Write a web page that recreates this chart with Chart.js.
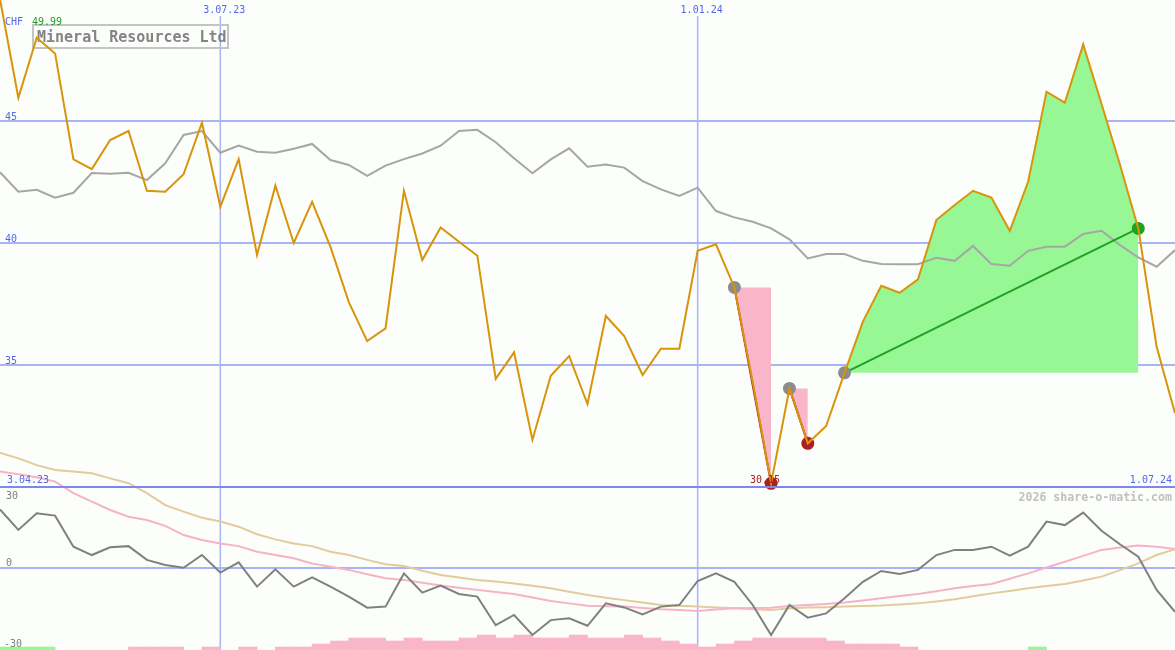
<!DOCTYPE html>
<html>
<head>
<meta charset="utf-8">
<title>Mineral Resources Ltd</title>
<script src="https://cdn.jsdelivr.net/npm/chart.js@4/dist/chart.umd.min.js"></script>
<style>
  html, body { margin: 0; padding: 0; background: #fcfefb; }
  #wrap { width: 1175px; height: 650px; position: relative; }
</style>
</head>
<body>
<div id="wrap"><canvas id="chart"></canvas></div>
<script>
/* ================= DATA ================= */
// weekly points, index 0 .. 64
const title = "Mineral Resources Ltd";
const currency = "CHF";
const dateTicks = [12, 38];
const dateTickLabels = ["3.07.23", "1.01.24"];
const firstDate = "3.04.23";
const lastDate = "1.07.24";
const priceTicks = [35, 40, 45];
const priceBase = 30;
const oscTicks = [30, 0, -30];

const price = [
  49.99, 45.95, 48.41, 47.77, 43.43, 43.03, 44.22, 44.59, 42.14, 42.10,
  42.82, 44.93, 41.49, 43.44, 39.51, 42.35, 40.00, 41.69, 39.84, 37.58,
  35.98, 36.50, 42.14, 39.30, 40.64, 40.05, 39.48, 34.43, 35.52, 31.93,
  34.56, 35.37, 33.40, 37.01, 36.19, 34.59, 35.67, 35.67, 39.68, 39.95,
  38.18, 34.30, 30.15, 34.04, 31.79, 32.50, 34.68, 36.78, 38.25, 37.96,
  38.51, 40.94, 41.56, 42.14, 41.86, 40.50, 42.51, 46.20, 45.75, 48.14,
  45.70, 43.22, 40.60, 35.75, 33.02
];

const compare = [
  42.90, 42.10, 42.18, 41.86, 42.06, 42.87, 42.84, 42.88, 42.58, 43.27,
  44.43, 44.59, 43.70, 43.99, 43.74, 43.70, 43.86, 44.06, 43.40, 43.20,
  42.75, 43.17, 43.44, 43.67, 43.99, 44.59, 44.64, 44.13, 43.47, 42.86,
  43.43, 43.88, 43.13, 43.22, 43.09, 42.54, 42.20, 41.93, 42.27, 41.31,
  41.05, 40.87, 40.60, 40.15, 39.37, 39.55, 39.55, 39.27, 39.14, 39.13,
  39.13, 39.40, 39.27, 39.88, 39.14, 39.07, 39.68, 39.85, 39.85, 40.37,
  40.50, 39.92, 39.41, 39.03, 39.71
];

const oscFast = [
  21.7, 14.1, 20.3, 19.4, 7.9, 4.8, 7.7, 8.1, 3.0, 1.1,
  0.1, 4.8, -1.7, 2.1, -6.9, -0.5, -6.9, -3.5, -6.9, -10.6,
  -14.7, -14.3, -2.0, -9.1, -6.5, -9.6, -10.6, -21.2, -17.4, -24.8,
  -19.3, -18.6, -21.4, -13.1, -14.6, -17.2, -14.3, -13.7, -4.8, -2.0,
  -5.1, -13.7, -24.8, -13.7, -18.4, -16.8, -11.2, -5.1, -1.1, -2.2,
  -0.7, 4.8, 6.7, 6.7, 7.9, 4.6, 7.9, 17.2, 15.9, 20.5,
  13.8, 8.8, 4.2, -8.1, -16.2
];

const oscMid = [
  35.7, 34.7, 33.6, 32.0, 27.7, 24.6, 21.5, 19.0, 17.8, 15.6,
  12.2, 10.4, 9.1, 8.1, 6.0, 4.8, 3.6, 1.7, 0.5, -0.7,
  -2.3, -3.8, -4.4, -5.5, -6.5, -7.3, -8.1, -8.9, -9.6, -10.9,
  -12.2, -13.1, -14.0, -14.2, -14.3, -14.8, -15.3, -15.6, -15.9, -15.4,
  -14.9, -14.8, -14.7, -14.1, -13.7, -13.3, -12.8, -12.0, -11.2, -10.4,
  -9.6, -8.6, -7.5, -6.7, -5.9, -4.0, -2.0, 0.2, 2.3, 4.5,
  6.7, 7.6, 8.3, 7.9, 7.0
];

const oscSlow = [
  42.7, 40.6, 38.1, 36.3, 35.7, 35.1, 33.2, 31.4, 27.7, 23.3,
  20.9, 18.6, 17.2, 15.3, 12.5, 10.6, 9.1, 8.1, 6.0, 4.8,
  3.0, 1.4, 0.7, -1.0, -2.6, -3.5, -4.4, -5.0, -5.7, -6.6,
  -7.5, -8.8, -10.0, -11.0, -11.9, -12.8, -13.7, -14.0, -14.3, -14.6,
  -14.9, -15.3, -15.6, -14.9, -14.6, -14.5, -14.3, -14.1, -13.9, -13.5,
  -13.1, -12.4, -11.6, -10.5, -9.4, -8.5, -7.5, -6.7, -5.9, -4.6,
  -3.2, -0.8, 1.7, 4.8, 7.0
];

// bars between week i and i+1 (64 intervals), level 0..5
const barsPink = [
  0, 0, 0, 0, 0, 0, 0, 1, 1, 1,
  0, 1, 0, 1, 0, 1, 1, 2, 3, 4,
  4, 3, 4, 3, 3, 4, 5, 4, 5, 4,
  4, 5, 4, 4, 5, 4, 3, 2, 1, 2,
  3, 4, 4, 4, 4, 3, 2, 2, 2, 1,
  0, 0, 0, 0, 0, 0, 0, 0, 0, 0,
  0, 0, 0, 0
];
const barsGreen = [
  1, 1, 1, 0, 0, 0, 0, 0, 0, 0,
  0, 0, 0, 0, 0, 0, 0, 0, 0, 0,
  0, 0, 0, 0, 0, 0, 0, 0, 0, 0,
  0, 0, 0, 0, 0, 0, 0, 0, 0, 0,
  0, 0, 0, 0, 0, 0, 0, 0, 0, 0,
  0, 0, 0, 0, 0, 0, 1, 0, 0, 0,
  0, 0, 0, 0
];

// signals: [start week, end week]
const downMoves = [[40, 42], [43, 44]];
const upMoves = [[46, 62]];
const maxIdx = 0;
const minIdx = 42;

/* ================= COLOURS ================= */
const C = {
  bg: "#fcfefb",
  price: "#d8940a",
  compare: "#a6a6a6",
  grid: "#a8b4f4",
  gridDark: "#7d88ea",
  label: "#5566ee",
  axisGrey: "#808080",
  oscFast: "#808080",
  oscMid: "#f8b2c8",
  oscSlow: "#e2cc9e",
  pink: "#f9b5ca",
  green: "#96f794",
  greenDark: "#22a022",
  red: "#aa2020",
  marker: "#8c8c8c"
};

/* ================= HELPERS ================= */
function series(values) {
  return values.map((v, i) => ({ x: i, y: v }));
}

function bars(levels) {
  const out = [];
  levels.forEach((v, i) => { if (v) out.push({ x: i + 0.5, y: v }); });
  return out;
}

function line(data, color, axis, order) {
  return {
    type: "line", data: data, yAxisID: axis, order: order,
    borderColor: color, borderWidth: 2, pointRadius: 0, tension: 0, fill: false
  };
}

function dots(idx, color, order) {
  return {
    type: "line", data: idx.map(i => ({ x: i, y: price[i] })), yAxisID: "y", order: order,
    showLine: false, pointRadius: 6.5, pointBackgroundColor: color, pointBorderWidth: 0
  };
}

/* ================= DATASETS ================= */
const datasets = [];
datasets.push(line(series(price), C.price, "y", 1));
datasets.push(dots([40, 43, 46], C.marker, 2));
datasets.push(dots([42, 44], C.red, 2));
datasets.push(dots([62], C.greenDark, 2));

downMoves.forEach(([a, b]) => {
  datasets.push(line([{ x: a, y: price[a] }, { x: b, y: price[b] }], C.red, "y", 3));
  datasets.push({
    type: "line", data: series(price).slice(a, b + 1), yAxisID: "y", order: 6,
    borderWidth: 0, borderColor: "rgba(0,0,0,0)", pointRadius: 0,
    fill: { value: price[a] }, backgroundColor: C.pink
  });
});
upMoves.forEach(([a, b]) => {
  datasets.push(line([{ x: a, y: price[a] }, { x: b, y: price[b] }], C.greenDark, "y", 3));
  datasets.push({
    type: "line", data: series(price).slice(a, b + 1), yAxisID: "y", order: 6,
    borderWidth: 0, borderColor: "rgba(0,0,0,0)", pointRadius: 0,
    fill: { value: price[a] }, backgroundColor: C.green
  });
});

datasets.push(line(series(compare), C.compare, "y", 5));
datasets.push(line(series(oscFast), C.oscFast, "osc", 7));
datasets.push(line(series(oscMid), C.oscMid, "osc", 8));
datasets.push(line(series(oscSlow), C.oscSlow, "osc", 9));

[[barsPink, C.pink], [barsGreen, C.green]].forEach(([lv, col]) => {
  datasets.push({
    type: "bar", data: bars(lv), yAxisID: "vol", order: 10, grouped: false,
    backgroundColor: col, borderWidth: 0, barPercentage: 1, categoryPercentage: 1
  });
});

/* ================= DECOR ================= */
const MONO = '"DejaVu Sans Mono", monospace';

const decor = {
  id: "decor",
  beforeDraw(chart) {
    const ctx = chart.ctx;
    ctx.save();
    ctx.fillStyle = C.bg;
    ctx.fillRect(0, 0, chart.width, chart.height);
    ctx.restore();
  },
  beforeDatasetsDraw(chart) {
    const ctx = chart.ctx;
    const x = chart.scales.x, y = chart.scales.y, osc = chart.scales.osc;
    const W = chart.width, H = chart.height;
    ctx.save();

    // vertical date lines
    ctx.strokeStyle = C.grid;
    ctx.lineWidth = 1.5;
    dateTicks.forEach(t => {
      const px = x.getPixelForValue(t);
      ctx.beginPath(); ctx.moveTo(px, 16); ctx.lineTo(px, H); ctx.stroke();
    });

    // horizontal price lines
    ctx.lineWidth = 2;
    priceTicks.forEach(t => {
      const py = y.getPixelForValue(t);
      ctx.beginPath(); ctx.moveTo(0, py); ctx.lineTo(W, py); ctx.stroke();
    });
    const p0 = osc.getPixelForValue(0);
    ctx.beginPath(); ctx.moveTo(0, p0); ctx.lineTo(W, p0); ctx.stroke();

    // title box
    ctx.strokeStyle = "#c4c4c4";
    ctx.lineWidth = 2;
    ctx.strokeRect(33, 25, 195, 23);
    ctx.font = "bold 15px " + MONO;
    ctx.fillStyle = "#848484";
    ctx.textBaseline = "alphabetic";
    ctx.fillText(title, 37, 42);
    ctx.restore();
  },
  afterDatasetsDraw(chart) {
    const ctx = chart.ctx;
    const x = chart.scales.x, y = chart.scales.y, osc = chart.scales.osc;
    const W = chart.width;
    ctx.save();

    // separator at price base
    const pb = y.getPixelForValue(priceBase);
    ctx.strokeStyle = C.gridDark;
    ctx.lineWidth = 2;
    ctx.beginPath(); ctx.moveTo(0, pb); ctx.lineTo(W, pb); ctx.stroke();

    ctx.font = "10px " + MONO;
    ctx.textBaseline = "alphabetic";

    // date labels
    ctx.fillStyle = C.label;
    ctx.textAlign = "center";
    dateTicks.forEach((t, i) => ctx.fillText(dateTickLabels[i], x.getPixelForValue(t) + 4, 13));
    ctx.textAlign = "left";
    ctx.fillText(firstDate, 7, pb - 4);
    ctx.textAlign = "right";
    ctx.fillText(lastDate, W - 3, pb - 4);

    // price labels
    ctx.textAlign = "left";
    priceTicks.forEach(t => ctx.fillText(String(t), 5, y.getPixelForValue(t) - 1));
    ctx.fillText(currency, 5, 25);
    ctx.fillStyle = C.greenDark;
    ctx.fillText(price[maxIdx].toFixed(2), 32, 25);

    // oscillator labels
    ctx.fillStyle = C.axisGrey;
    oscTicks.forEach(t => {
      const py = osc.getPixelForValue(t);
      ctx.fillText(String(t), t < 0 ? 4 : 6, t > 0 ? py + 12 : py - 2);
    });

    // min label
    ctx.fillStyle = C.red;
    ctx.textAlign = "center";
    ctx.fillText(price[minIdx].toFixed(2), x.getPixelForValue(minIdx) - 6, pb - 4);

    // credit
    ctx.fillStyle = "#c0c0c0";
    ctx.textAlign = "right";
    ctx.font = "bold 11.6px " + MONO;
    ctx.fillText("2026 share-o-matic.com", W - 3, pb + 14);
    ctx.restore();
  }
};

/* ================= CHART ================= */
new Chart(document.getElementById("chart"), {
  type: "line",
  data: { datasets: datasets },
  options: {
    responsive: true,
    maintainAspectRatio: false,
    animation: false,
    layout: { padding: 0, autoPadding: false },
    plugins: { legend: { display: false }, tooltip: { enabled: false } },
    scales: {
      x: { type: "linear", min: 0, max: 64, display: false, offset: false },
      y: { type: "linear", min: 23.32, max: 49.96, display: false },
      osc: { type: "linear", min: -30.37, max: 210.37, display: false },
      vol: { type: "linear", min: 0, max: 216.7, display: false }
    }
  },
  plugins: [decor]
});
</script>
</body>
</html>
